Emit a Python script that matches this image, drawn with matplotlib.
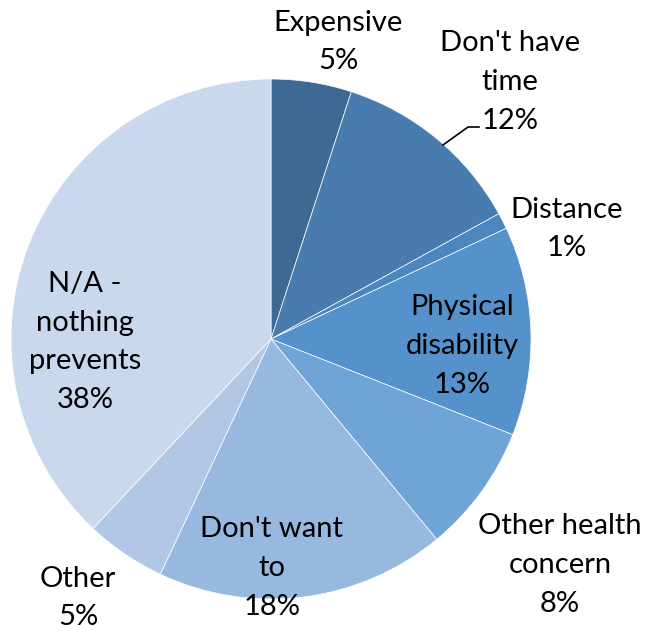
import matplotlib
matplotlib.use("Agg")
import matplotlib.pyplot as plt

# Reasons that prevent taking part (share of respondents, %)
categories = ["Expensive", "Don't have\ntime", "Distance", "Physical\ndisability",
              "Other health\nconcern", "Don't want\nto", "Other", "N/A -\nnothing\nprevents"]
values = [5, 12, 1, 13, 8, 18, 5, 38]
colors = ["#3E6994", "#497CAE", "#4C86BE", "#5592CC", "#6FA4D7",
          "#97B8DF", "#B1C7E4", "#C9D8ED"]

W, H = 646, 630
fig = plt.figure(figsize=(W / 100, H / 100), dpi=100)
ax = fig.add_axes([0, 0, 1, 1])

# pie centre and radius in pixels
cx, cy, r = 271, 339, 260
ax.pie(values, colors=colors, startangle=90, counterclock=False, radius=1,
       center=(0, 0), wedgeprops=dict(edgecolor="white", linewidth=0.5))
ax.set_xlim(-cx / r, (W - cx) / r)
ax.set_ylim((cy - H) / r, cy / r)
ax.set_aspect("equal")
ax.axis("off")

# label anchors (pixel centres of the text blocks)
label_pos = [(338, 42), (510, 82), (567, 229), (462, 346),
             (560, 565), (272, 568), (78, 598), (85, 342)]

for name, v, (px, py) in zip(categories, values, label_pos):
    fig.text(px / W, 1 - py / H, f"{name}\n{v}%", ha="center", va="center",
             fontsize=21, family="Lato", linespacing=1.6, color="black")

# leader line for the "Don't have time" label
ax.plot([(443 - cx) / r, (468 - cx) / r, (479 - cx) / r],
        [(cy - 145) / r, (cy - 127) / r, (cy - 127) / r],
        color="black", linewidth=1.2)

fig.savefig("out.png", dpi=100)
